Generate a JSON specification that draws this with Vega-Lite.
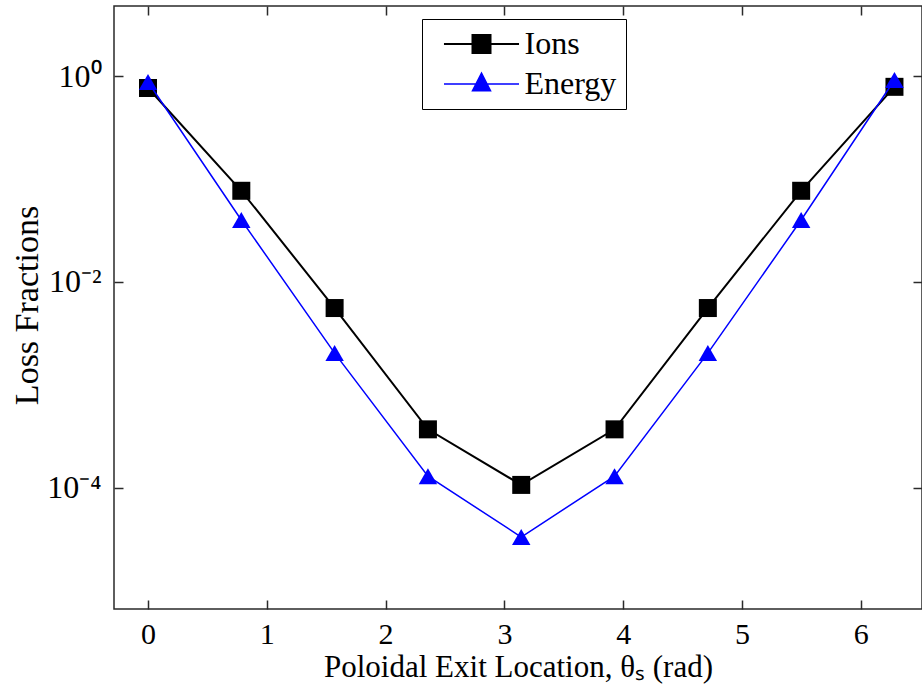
{
  "$schema": "https://vega.github.io/schema/vega-lite/v6.json",
  "width": 808,
  "height": 603,
  "autosize": {"type": "none"},
  "padding": {"left": 114, "top": 6, "right": 0, "bottom": 82},
  "background": "white",
  "config": {
    "view": {"stroke": "#2a2a2a", "strokeWidth": 1.5},
    "font": "Liberation Serif",
    "axis": {
      "grid": false,
      "domain": false,
      "tickColor": "#2a2a2a",
      "tickWidth": 1.5,
      "tickSize": -9,
      "labelFont": "Liberation Serif",
      "labelColor": "#000000",
      "labelFontSize": 30,
      "titleFont": "Liberation Serif",
      "titleColor": "#000000",
      "titleFontWeight": "normal",
      "titleFontSize": 31
    }
  },
  "datasets": {
    "pts": [
      {"theta": 0, "frac": 0.77, "series": "Ions"},
      {"theta": 0.7854, "frac": 0.077, "series": "Ions"},
      {"theta": 1.5708, "frac": 0.00557, "series": "Ions"},
      {"theta": 2.3562, "frac": 0.000368, "series": "Ions"},
      {"theta": 3.1416, "frac": 0.000106, "series": "Ions"},
      {"theta": 3.927, "frac": 0.000368, "series": "Ions"},
      {"theta": 4.7124, "frac": 0.00557, "series": "Ions"},
      {"theta": 5.4978, "frac": 0.077, "series": "Ions"},
      {"theta": 6.2832, "frac": 0.79, "series": "Ions"},
      {"theta": 0, "frac": 0.88, "series": "Energy"},
      {"theta": 0.7854, "frac": 0.04, "series": "Energy"},
      {"theta": 1.5708, "frac": 0.00203, "series": "Energy"},
      {"theta": 2.3562, "frac": 0.000129, "series": "Energy"},
      {"theta": 3.1416, "frac": 0.000033, "series": "Energy"},
      {"theta": 3.927, "frac": 0.000129, "series": "Energy"},
      {"theta": 4.7124, "frac": 0.00203, "series": "Energy"},
      {"theta": 5.4978, "frac": 0.04, "series": "Energy"},
      {"theta": 6.2832, "frac": 0.92, "series": "Energy"}
    ]
  },
  "data": {"name": "pts"},
  "resolve": {"axis": {"x": "independent", "y": "independent"}},
  "layer": [
    {
      "encoding": {
        "x": {
          "field": "theta",
          "type": "quantitative",
          "scale": {"domain": [-0.2862, 6.515], "nice": false, "zero": false},
          "axis": {
            "orient": "bottom",
            "values": [0, 1, 2, 3, 4, 5, 6],
            "labelPadding": 19,
            "title": "Poloidal Exit Location, θₛ (rad)",
            "titleBaseline": "alphabetic",
            "titleY": 67
          }
        },
        "y": {
          "field": "frac",
          "type": "quantitative",
          "scale": {"type": "log", "domain": [0.00000658, 4.83], "nice": false},
          "axis": {
            "orient": "left",
            "values": [1, 0.01, 0.0001],
            "labelExpr": "datum.value >= 0.5 ? '10⁰' : (datum.value >= 0.005 ? '10⁻²' : '10⁻⁴')",
            "labelFontSize": 32,
            "labelPadding": 22,
            "title": "Loss Fractions",
            "titleFontSize": 34,
            "titleBaseline": "alphabetic",
            "titleX": -77,
            "titleY": 299
          }
        },
        "color": {
          "field": "series",
          "type": "nominal",
          "scale": {"domain": ["Ions", "Energy"], "range": ["#000000", "#0000ff"]},
          "legend": {
            "title": null,
            "orient": "none",
            "legendX": 308,
            "legendY": 13,
            "padding": 9,
            "strokeColor": "#000000",
            "fillColor": "#ffffff",
            "labelFont": "Liberation Serif",
            "labelFontSize": 32,
            "labelColor": "#000000",
            "symbolOffset": 34.5,
            "labelOffset": 27,
            "rowPadding": 8,
            "symbolSize": 324,
            "symbolStrokeWidth": 2,
            "encode": {
              "symbols": {
                "update": {
                  "shape": {"signal": "datum.value === 'Ions' ? 'M-4.17,0H4.17M-1,-1H1V1H-1Z' : 'M-4.17,0H4.17M0,-1.2L1,0.75H-1Z'"},
                  "fill": {"signal": "datum.value === 'Ions' ? '#000000' : '#0000ff'"},
                  "stroke": {"signal": "datum.value === 'Ions' ? '#000000' : '#0000ff'"},
                  "strokeWidth": {"signal": "datum.value === 'Ions' ? 2 : 1.5"},
                  "opacity": {"value": 1},
                  "fillOpacity": {"value": 1}
                }
              }
            }
          }
        }
      },
      "layer": [
        {
          "transform": [{"filter": "datum.series === 'Ions'"}],
          "mark": {"type": "line", "strokeWidth": 2}
        },
        {
          "transform": [{"filter": "datum.series === 'Ions'"}],
          "mark": {"type": "point", "filled": true, "size": 324, "opacity": 1, "shape": "square"}
        },
        {
          "transform": [{"filter": "datum.series === 'Energy'"}],
          "mark": {"type": "line", "strokeWidth": 1.5}
        },
        {
          "transform": [{"filter": "datum.series === 'Energy'"}],
          "mark": {"type": "point", "filled": true, "size": 340, "opacity": 1, "shape": "triangle-up"}
        }
      ]
    },
    {
      "mark": {"type": "point", "opacity": 0},
      "encoding": {
        "x": {
          "field": "theta",
          "type": "quantitative",
          "axis": {"orient": "top", "values": [0, 1, 2, 3, 4, 5, 6], "labels": false, "title": null}
        },
        "y": {
          "field": "frac",
          "type": "quantitative",
          "axis": {"orient": "right", "values": [1, 0.01, 0.0001], "labels": false, "title": null}
        }
      }
    }
  ]
}
